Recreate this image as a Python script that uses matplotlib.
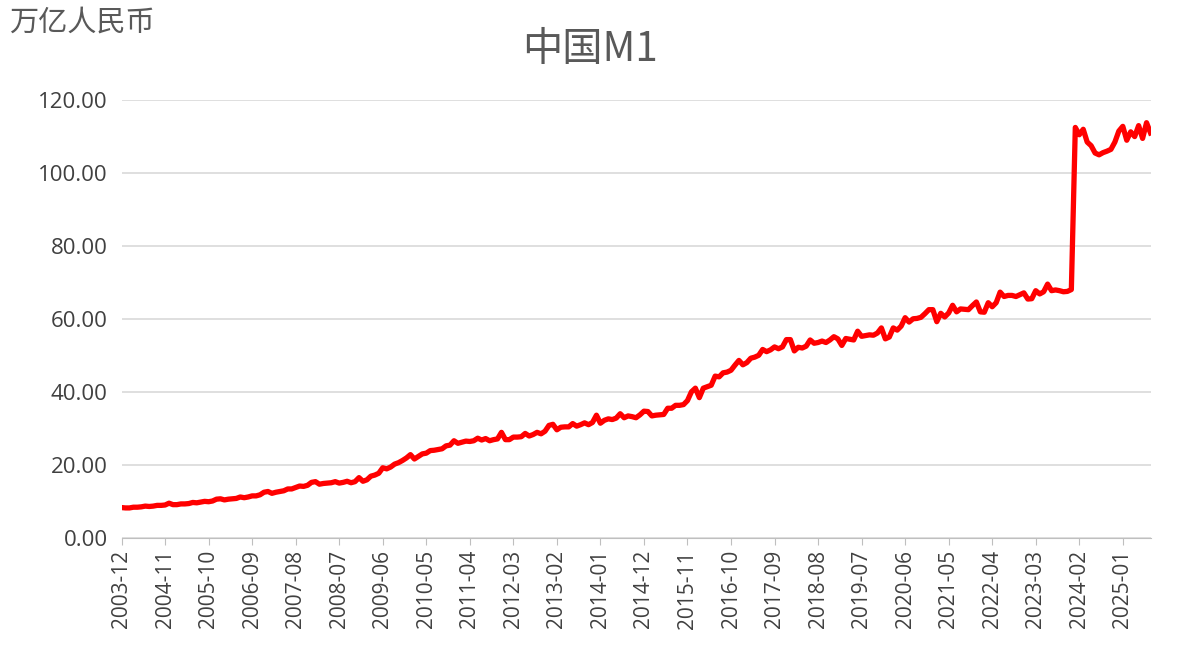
import matplotlib.pyplot as plt
import pandas as pd

plt.rcParams['font.family'] = ['Noto Sans CJK SC', 'DejaVu Sans']

# 中国M1, 万亿人民币, monthly from 2003-12
m1 = [
    8.4,
    8.3, 8.3, 8.5, 8.5, 8.6, 8.8, 8.7, 8.8, 9.0, 9.0, 9.1, 9.6,
    9.2, 9.2, 9.4, 9.4, 9.5, 9.8, 9.7, 9.9, 10.1, 10.0, 10.2, 10.7,
    10.8, 10.5, 10.7, 10.8, 10.9, 11.3, 11.1, 11.3, 11.6, 11.6, 11.9, 12.6,
    12.8, 12.3, 12.6, 12.8, 13.0, 13.5, 13.5, 13.9, 14.3, 14.2, 14.5, 15.3,
    15.5, 14.8, 15.0, 15.1, 15.2, 15.5, 15.1, 15.3, 15.6, 15.2, 15.5, 16.6,
    15.6, 16.0, 17.0, 17.3, 17.8, 19.3, 19.0, 19.5, 20.3, 20.7, 21.3, 22.0,
    22.9, 21.7, 22.4, 23.1, 23.3, 24.0, 24.1, 24.3, 24.5, 25.3, 25.5, 26.7,
    26.0, 26.3, 26.6, 26.5, 26.7, 27.4, 26.9, 27.3, 26.7, 27.0, 27.2, 29.0,
    27.0, 27.0, 27.7, 27.7, 27.8, 28.7, 28.0, 28.4, 29.0, 28.6, 29.3, 30.9,
    31.2, 29.7, 30.4, 30.5, 30.5, 31.4, 30.7, 31.1, 31.6, 31.1, 31.7, 33.7,
    31.5, 32.3, 32.7, 32.5, 32.9, 34.1, 33.0, 33.5, 33.3, 33.0, 33.8, 34.8,
    34.7, 33.5, 33.7, 33.8, 33.9, 35.6, 35.6, 36.4, 36.4, 36.6, 37.7, 40.1,
    41.1, 38.5, 41.1, 41.5, 41.9, 44.4, 44.2, 45.3, 45.5, 46.0, 47.4, 48.7,
    47.5, 48.1, 49.3, 49.6, 50.1, 51.7, 51.1, 51.6, 52.4, 51.9, 52.4, 54.4,
    54.4, 51.3, 52.3, 52.1, 52.6, 54.3, 53.4, 53.6, 54.0, 53.6, 54.3, 55.2,
    54.6, 52.8, 54.7, 54.5, 54.3, 56.7, 55.3, 55.5, 55.7, 55.6, 56.2, 57.6,
    54.6, 55.1, 57.6, 57.0, 58.1, 60.4, 59.2, 60.1, 60.2, 60.5, 61.5, 62.6,
    62.6, 59.3, 61.6, 60.6, 61.7, 63.8, 62.0, 62.8, 62.7, 62.6, 63.7, 64.7,
    62.0, 61.9, 64.5, 63.4, 64.5, 67.4, 66.2, 66.5, 66.5, 66.2, 66.7, 67.2,
    65.5, 65.6, 67.8, 66.9, 67.5, 69.6, 67.8, 68.0, 67.8, 67.5, 67.6, 68.1,
    112.5, 110.5, 112.0, 108.5, 107.5, 105.5, 105.0, 105.6, 106.0, 106.5, 108.5, 111.5,
    112.8, 109.0, 111.3, 110.0, 113.0, 109.5, 113.8, 111.0,
]
dates = pd.period_range('2003-12', periods=len(m1), freq='M')
labels = [str(d) for d in dates]

fig = plt.figure(figsize=(11.8, 6.54), dpi=100)
ax = fig.add_axes([0.103, 0.177, 0.872, 0.67])
ax.plot(range(len(m1)), m1, color='#ff0000', lw=3.8)

ticks = list(range(0, len(m1), 11))
ax.set_xticks(ticks)
ax.set_xticklabels([labels[i] for i in ticks], rotation=90, fontsize=15,
                   color='#404040', family='Open Sans')
ax.set_xlim(0, len(m1) - 1)
ax.set_ylim(0, 120)
ax.set_yticks(range(0, 121, 20))
ax.set_yticklabels([f"{v:.2f}" for v in range(0, 121, 20)], fontsize=16,
                   color='#404040', family='Open Sans')
ax.grid(axis='y', color='#d9d9d9', lw=1.2)
ax.set_axisbelow(True)
for s in ['top', 'right', 'left']:
    ax.spines[s].set_visible(False)
ax.spines['bottom'].set_color('#bfbfbf')
ax.tick_params(axis='y', length=0, pad=10)
ax.tick_params(axis='x', color='#bfbfbf', length=5)

fig.text(0.5, 0.925, '中国M1', ha='center', va='center', fontsize=29, color='#595959')
fig.text(0.008, 0.965, '万亿人民币', ha='left', va='center', fontsize=21, color='#595959')

fig.savefig('out.png')
